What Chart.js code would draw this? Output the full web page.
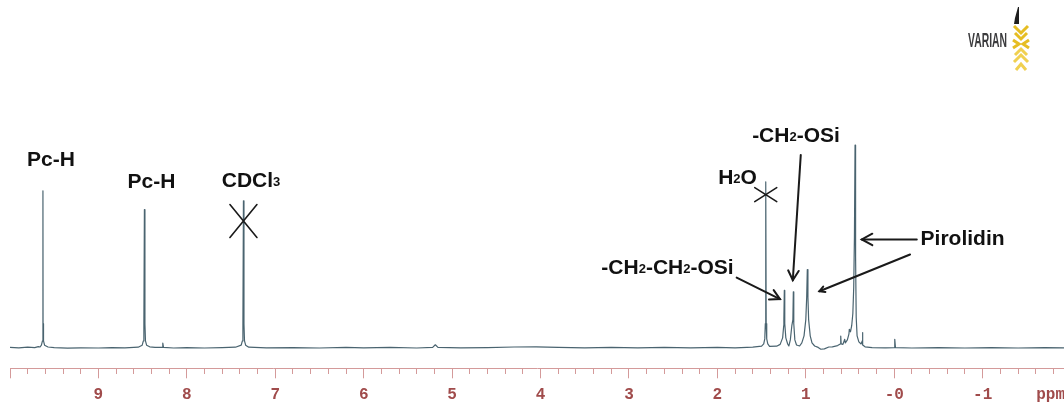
<!DOCTYPE html>
<html>
<head>
<meta charset="utf-8">
<script src="https://cdn.jsdelivr.net/npm/chart.js@4.4.1/dist/chart.umd.min.js"></script>
<style>
  html, body { margin: 0; padding: 0; background: #ffffff; overflow: hidden; }
  #wrap { width: 1064px; height: 408px; position: relative; }
</style>
</head>
<body>
<div id="wrap"><canvas id="nmr" width="1064" height="408"></canvas></div>
<script>
// 1H NMR spectrum in CDCl3: chemical shift (ppm) and relative intensity
const shiftPpm = [
  10.00, 9.90, 9.80, 9.72, 9.68, 9.66, 9.645, 9.633, 9.628, 9.627, 9.626, 9.621, 9.609, 9.57, 9.50, 9.35, 9.20, 9.00,
  8.85, 8.70, 8.55, 8.505, 8.492, 8.486, 8.480, 8.474, 8.468, 8.455, 8.42, 8.36, 8.28, 8.272, 8.264, 8.15, 8.00,
  7.80, 7.60, 7.45, 7.385, 7.372, 7.366, 7.360, 7.354, 7.348, 7.335, 7.30, 7.10, 6.80, 6.50, 6.20, 6.00,
  5.70, 5.40, 5.22, 5.19, 5.16, 4.90, 4.60, 4.30, 4.05, 3.80, 3.50, 3.20, 2.90, 2.60, 2.30, 2.00,
  1.80, 1.60, 1.50, 1.476, 1.464, 1.458, 1.453, 1.448, 1.442, 1.430, 1.41, 1.33, 1.29,
  1.262, 1.250, 1.248, 1.243, 1.238, 1.226, 1.205, 1.192, 1.175, 1.158, 1.146, 1.141, 1.136, 1.124, 1.105,
  1.07, 1.045, 1.020, 1.000, 0.990, 0.983, 0.976, 0.968, 0.950, 0.93, 0.90, 0.86, 0.83, 0.79, 0.74, 0.70,
  0.640, 0.610, 0.605, 0.600, 0.580, 0.560, 0.553, 0.530, 0.512, 0.508, 0.495, 0.481, 0.468, 0.458, 0.450,
  0.443, 0.437, 0.430, 0.420, 0.400, 0.375, 0.362, 0.359, 0.355, 0.33, 0.25, 0.10,
  0.00, -0.006, -0.014, -0.20, -0.50, -0.80, -1.10, -1.40, -1.70, -1.92
];
const intensity = [
  0.3, 0.1, 0.4, 0.2, 0.7, 0.5, 1.4, 3.5, 12, 77.5, 12, 3.5, 1.4, 0.5, 0.2, -0.1, 0.1, 0.0,
  0.2, 0.1, 0.4, 1.4, 3.5, 12, 68.2, 12, 3.5, 1.4, 0.6, 0.3, 0.3, 2.4, 0.3, 0.0, 0.2,
  0.0, 0.2, 0.4, 1.4, 3.5, 12, 72.6, 12, 3.5, 1.4, 0.4, 0.1, 0.2, 0.0, 0.3, 0.1,
  0.3, 0.0, 0.3, 1.6, 0.3, 0.1, 0.2, 0.5, 0.6, 0.3, 0.1, 0.3, 0.1, 0.3, 0.1, 0.3,
  0.1, 0.4, 0.9, 2.0, 4.5, 12, 81.9, 12, 4.5, 2.0, 0.8, 0.9, 1.8,
  5, 11, 14, 28.4, 12, 5, 2.0, 1.0, 4, 11, 14, 27.7, 12, 4, 1.5,
  1.0, 2.5, 6, 14, 25, 38.7, 25, 14, 6, 2.5, 1.0, 0.3, -0.6, -0.4, 0.5, 0.6,
  1.2, 2.0, 5.9, 2.0, 1.8, 4.3, 2.5, 4.0, 7, 9.2, 8, 11, 17, 30, 55,
  100, 45, 15, 6, 3, 2, 3.5, 7.6, 1.5, 0.6, 0.2, 0.1,
  0.2, 4.3, 0.2, 0.0, 0.2, 0.0, 0.2, 0.0, 0.2, 0.1
];

// labelled axis ticks
const tickValues = [9, 8, 7, 6, 5, 4, 3, 2, 1, 0, -1];
const tickLabels = ['9', '8', '7', '6', '5', '4', '3', '2', '1', '-0', '-1'];
const axisUnit = 'ppm';

// peak assignments
const peakNames = ['Pc-H', 'Pc-H', 'CDCl₃', 'H₂O', '-CH₂-OSi', '-CH₂-CH₂-OSi', 'Pirolidin'];
const solventShifts = [7.36, 1.453]; // CDCl3 and water signals, crossed out
const brandName = 'VARIAN';

const SUBSCRIPTS = { '₀': '0', '₁': '1', '₂': '2', '₃': '3', '₄': '4', '₅': '5', '₆': '6', '₇': '7', '₈': '8', '₉': '9' };
const LABEL_FONT = '"Liberation Sans", Arial, Helvetica, sans-serif';

function drawRichLabel(ctx, text, cx, baseY, size) {
  const runs = [];
  for (const ch of text) {
    const isSub = SUBSCRIPTS[ch] !== undefined;
    const c = isSub ? SUBSCRIPTS[ch] : ch;
    const last = runs[runs.length - 1];
    if (last && last.sub === isSub) last.t += c; else runs.push({ t: c, sub: isSub });
  }
  const mainFont = `bold ${size}px ${LABEL_FONT}`;
  const subFont = `bold ${Math.round(size * 0.62)}px ${LABEL_FONT}`;
  let total = 0;
  runs.forEach(r => { ctx.font = r.sub ? subFont : mainFont; r.w = ctx.measureText(r.t).width; total += r.w; });
  let x = cx - total / 2;
  ctx.textAlign = 'left';
  ctx.textBaseline = 'alphabetic';
  runs.forEach(r => {
    ctx.font = r.sub ? subFont : mainFont;
    ctx.fillText(r.t, x, baseY - (r.sub ? 1 : 0));
    x += r.w;
  });
}

function drawArrow(ctx, x1, y1, x2, y2, head, spread) {
  ctx.beginPath();
  ctx.moveTo(x1, y1);
  ctx.lineTo(x2, y2);
  ctx.stroke();
  const a = Math.atan2(y2 - y1, x2 - x1);
  ctx.beginPath();
  ctx.moveTo(x2 - head * Math.cos(a - spread), y2 - head * Math.sin(a - spread));
  ctx.lineTo(x2, y2);
  ctx.lineTo(x2 - head * Math.cos(a + spread), y2 - head * Math.sin(a + spread));
  ctx.stroke();
}

function drawLogo(ctx, w) {
  // wordmark, condensed
  ctx.save();
  ctx.fillStyle = '#3b3b3d';
  ctx.font = `bold 21px ${LABEL_FONT}`;
  const tw = ctx.measureText(brandName).width;
  ctx.translate(w - 96, 47);
  ctx.scale(39 / tw, 1);
  ctx.textAlign = 'left';
  ctx.textBaseline = 'alphabetic';
  ctx.fillText(brandName, 0, 0);
  ctx.restore();

  // emblem
  const cx = w - 43, cy = 44;
  ctx.save();
  ctx.fillStyle = '#1e1e1e';
  ctx.beginPath();
  ctx.moveTo(cx - 6, 18); ctx.lineTo(cx - 3, 7); ctx.lineTo(cx - 2, 7); ctx.lineTo(cx - 2, 24); ctx.lineTo(cx - 7, 24);
  ctx.closePath();
  ctx.fill();
  ctx.strokeStyle = '#e6bd22';
  ctx.lineWidth = 3;
  ctx.lineCap = 'butt';
  const chev = (pts) => { ctx.beginPath(); ctx.moveTo(pts[0], pts[1]); ctx.lineTo(pts[2], pts[3]); ctx.lineTo(pts[4], pts[5]); ctx.stroke(); };
  chev([cx - 7, cy - 18, cx, cy - 11, cx + 7, cy - 18]);
  chev([cx - 6, cy - 11, cx, cy - 5, cx + 6, cy - 11]);
  chev([cx - 8, cy - 4, cx - 2, cy, cx - 8, cy + 4]);
  chev([cx + 8, cy - 4, cx + 2, cy, cx + 8, cy + 4]);
  ctx.strokeStyle = '#f0d050';
  chev([cx - 6, cy + 11, cx, cy + 5, cx + 6, cy + 11]);
  chev([cx - 7, cy + 18, cx, cy + 11, cx + 7, cy + 18]);
  chev([cx - 5, cy + 26, cx, cy + 20, cx + 5, cy + 26]);
  ctx.restore();
}

const notes = {
  labels: [
    { name: 0, at: [9.536, 89.6] },
    { name: 1, at: [8.400, 78.8] },
    { name: 2, at: [7.274, 79.2] },
    { name: 3, at: [1.772, 81.0] },
    { name: 4, at: [1.111, 101.7] },
    { name: 5, at: [2.564, 36.3] },
    { name: 6, at: [-0.773, 50.6] }
  ],
  crosses: [
    { shift: 0, level: 62.6, hw: 13.5, hh: 16.5 },
    { shift: 1, level: 75.6, hw: 11, hh: 7 }
  ],
  arrows: [
    { from: [1.057, 95.2], to: [1.147, 33.4], head: 11 },
    { from: [1.782, 34.7], to: [1.292, 24.1], head: 11 },
    { from: [-0.255, 53.5], to: [0.367, 53.5], head: 12 },
    { from: [-0.179, 46.1], to: [0.846, 28.0], head: 6 }
  ]
};

const annotationPlugin = {
  id: 'nmrNotes',
  afterDraw(chart) {
    const { ctx, scales: { x, y } } = chart;
    const px = v => x.getPixelForValue(v);
    const py = v => y.getPixelForValue(v);
    ctx.save();
    ctx.fillStyle = '#111111';
    notes.labels.forEach(l => drawRichLabel(ctx, peakNames[l.name], px(l.at[0]), py(l.at[1]), 21));

    ctx.strokeStyle = '#1a1a1a';
    ctx.lineWidth = 1.6;
    ctx.lineCap = 'round';
    notes.crosses.forEach(c => {
      const cx = px(solventShifts[c.shift]), cy = py(c.level);
      ctx.beginPath();
      ctx.moveTo(cx - c.hw, cy - c.hh); ctx.lineTo(cx + c.hw, cy + c.hh);
      ctx.moveTo(cx - c.hw, cy + c.hh); ctx.lineTo(cx + c.hw, cy - c.hh);
      ctx.stroke();
    });

    ctx.lineWidth = 2;
    ctx.lineJoin = 'miter';
    notes.arrows.forEach(a => drawArrow(ctx, px(a.from[0]), py(a.from[1]), px(a.to[0]), py(a.to[1]), a.head, 0.5));

    // axis unit at the right end of the tick label row
    const opts = x.options;
    const font = Chart.helpers.toFont(opts.ticks.font);
    ctx.font = font.string;
    ctx.fillStyle = opts.ticks.color;
    ctx.textAlign = 'right';
    ctx.textBaseline = 'middle';
    ctx.fillText(axisUnit, chart.chartArea.right + 1, x.top + opts.grid.tickLength + opts.ticks.padding + font.lineHeight / 2);

    drawLogo(ctx, chart.width);
    ctx.restore();
  }
};

const isMajor = v => Math.abs(v - Math.round(v)) < 1e-6;
const tickColor = '#d49a9a';

new Chart(document.getElementById('nmr'), {
  type: 'line',
  data: {
    datasets: [{
      data: shiftPpm.map((s, i) => ({ x: s, y: intensity[i] })),
      borderColor: '#4a6470',
      borderWidth: 1.2,
      borderJoinStyle: 'round',
      pointRadius: 0,
      tension: 0,
      fill: false
    }]
  },
  options: {
    responsive: false,
    animation: false,
    events: [],
    layout: { padding: { left: 10, right: 0, top: 135, bottom: -3.5 } },
    plugins: { legend: { display: false }, tooltip: { enabled: false } },
    scales: {
      x: {
        type: 'linear',
        reverse: true,
        min: -1.92,
        max: 10,
        border: { display: true, color: tickColor, width: 1 },
        grid: {
          drawOnChartArea: false,
          drawTicks: true,
          tickLength: 10,
          tickWidth: 1,
          tickColor: tickColor,
          tickBorderDash: ctx => (ctx.tick && isMajor(ctx.tick.value)) ? [] : [5, 30]
        },
        ticks: {
          stepSize: 0.2,
          autoSkip: false,
          includeBounds: false,
          maxRotation: 0,
          minRotation: 0,
          padding: 7,
          color: '#a04b4b',
          font: { family: '"Liberation Mono", "Courier New", monospace', size: 16, weight: 'bold' },
          callback: value => {
            const k = tickValues.findIndex(t => Math.abs(t - value) < 1e-6);
            return k >= 0 ? tickLabels[k] : '';
          }
        }
      },
      y: {
        display: false,
        min: -10,
        max: 105
      }
    }
  },
  plugins: [annotationPlugin]
});
</script>
</body>
</html>
